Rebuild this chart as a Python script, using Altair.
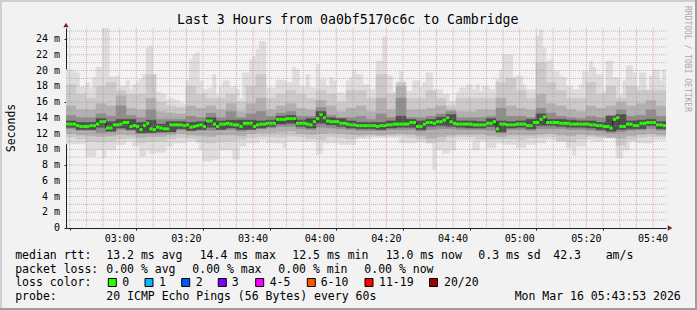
import altair as alt
import pandas as pd

# ---------------- data ----------------
START = "2026-03-16T02:43:53Z"
SPAN_MIN = 180          # 3 hours, one ping round per minute
INNER_MIN = 3           # inner smoke layers read at 3-minute resolution
YMAX = 25.4             # top of the value axis, ms

# median rtt per minute (ms)
median_ms = [
    13.2, 13.2, 13.2, 13.0, 12.9, 12.9, 12.9, 13.0, 13.0, 13.2, 13.5, 13.5, 12.7, 12.7, 13.1,
    13.1, 13.2, 13.4, 13.4, 12.9, 13.0, 12.9, 12.5, 13.0, 13.3, 12.6, 12.5, 12.8, 12.7, 12.6,
    12.6, 13.1, 13.1, 13.1, 13.1, 13.0, 13.1, 12.8, 12.9, 13.0, 13.1, 12.9, 13.6, 13.6, 13.2,
    12.9, 13.2, 13.2, 13.3, 13.2, 13.1, 13.1, 12.9, 13.3, 13.3, 13.3, 12.9, 13.1, 13.2, 13.2,
    13.3, 13.3, 13.3, 13.8, 13.8, 13.8, 13.9, 13.9, 13.9, 13.3, 13.3, 13.3, 13.2, 13.1, 13.5,
    13.9, 14.4, 14.0, 13.6, 13.5, 13.5, 13.5, 13.3, 13.3, 13.2, 13.1, 13.1, 13.0, 13.0, 13.0,
    13.0, 13.0, 13.0, 12.9, 13.0, 13.0, 13.1, 13.1, 13.2, 13.2, 13.2, 13.2, 13.2, 13.4, 13.4,
    12.9, 12.9, 13.2, 13.4, 13.4, 13.3, 13.5, 13.5, 13.7, 14.0, 13.5, 13.3, 13.2, 13.2, 13.2,
    13.2, 13.2, 13.1, 13.1, 13.1, 13.1, 13.3, 13.3, 13.5, 12.6, 13.2, 13.2, 13.1, 13.1, 13.1,
    13.2, 13.2, 13.2, 13.0, 13.0, 13.4, 13.4, 13.8, 14.1, 13.4, 13.4, 13.4, 13.4, 13.3, 13.3,
    13.3, 13.2, 13.2, 13.2, 13.2, 13.2, 13.2, 13.1, 13.1, 13.0, 13.0, 12.9, 12.9, 12.7, 13.8,
    14.0, 12.9, 12.9, 13.2, 13.2, 13.0, 13.0, 13.3, 13.3, 13.4, 13.4, 13.4, 13.1, 13.1, 13.0,
]

# slowest ping of each round (top of the outer smoke), ms
smoke_hi_ms = [
    20.1, 20.1, 19.9, 19.7, 17.9, 18.0, 18.5, 17.8, 19.1, 20.4, 20.4, 25.6, 25.6, 19.2, 19.2,
    19.3, 18.0, 18.0, 18.7, 17.6, 18.2, 18.5, 18.9, 19.5, 22.9, 23.1, 19.1, 17.2, 17.2, 17.0,
    16.3, 16.5, 16.3, 16.2, 15.9, 15.7, 18.7, 21.4, 22.0, 22.3, 18.7, 17.6, 17.6, 17.8, 19.5,
    17.0, 18.0, 18.7, 18.7, 17.8, 18.0, 17.6, 16.5, 19.7, 19.7, 21.4, 21.8, 22.7, 23.7, 23.7,
    17.8, 17.8, 17.8, 18.8, 18.8, 18.7, 18.5, 18.5, 20.4, 20.1, 18.0, 18.0, 19.5, 17.8, 17.8,
    20.8, 18.9, 18.9, 18.0, 19.1, 18.7, 17.2, 17.2, 17.0, 18.7, 19.1, 20.1, 19.5, 19.5, 18.2,
    18.2, 17.6, 17.6, 21.2, 21.2, 24.2, 19.5, 19.3, 17.2, 17.6, 19.9, 17.8, 17.4, 17.4, 18.7,
    18.7, 18.0, 18.5, 19.7, 19.7, 17.2, 17.6, 17.6, 17.0, 17.0, 16.1, 16.1, 17.2, 17.8, 17.8,
    18.2, 18.2, 17.6, 18.2, 17.4, 18.0, 18.0, 17.6, 17.6, 18.9, 20.1, 22.0, 22.0, 22.0, 19.1,
    19.3, 19.3, 18.2, 17.6, 17.6, 17.6, 24.4, 25.2, 22.9, 21.2, 21.4, 19.9, 19.9, 19.3, 19.1,
    18.0, 18.0, 17.6, 17.6, 18.2, 19.9, 19.9, 21.2, 20.4, 19.5, 19.5, 17.4, 21.2, 21.2, 19.1,
    19.1, 17.0, 18.7, 20.6, 20.6, 19.7, 18.0, 19.7, 19.7, 17.6, 19.3, 20.1, 20.1, 18.7, 20.1,
]

# fastest ping of each round (bottom of the outer smoke), ms
smoke_lo_ms = [
    10.7, 10.7, 10.7, 10.7, 10.7, 10.7, 9.1, 9.1, 9.1, 9.9,
    9.9, 8.9, 9.9, 9.9, 9.9, 10.6, 10.6, 10.6, 11.0, 11.0,
    10.4, 10.4, 9.1, 9.1, 9.9, 9.5, 9.5, 9.6, 9.6, 9.6,
    10.4, 10.4, 10.8, 10.8, 10.8, 10.8, 11.0, 11.0, 11.0, 11.0,
    9.9, 8.5, 8.5, 8.5, 8.7, 8.7, 9.9, 9.9, 9.9, 9.9,
    8.7, 8.7, 10.4, 10.4, 10.8, 10.8, 10.8, 10.8, 11.2, 11.2,
    10.8, 10.8, 10.8, 10.8, 10.8, 10.2, 11.0, 11.0, 11.0, 11.0,
    11.0, 11.0, 11.0, 11.0, 11.0, 9.3, 9.5, 10.8, 10.8, 10.8,
    10.8, 10.8, 10.6, 10.6, 10.6, 10.6, 10.6, 11.4, 11.4, 11.4,
    11.4, 11.4, 11.5, 11.5, 11.5, 11.5, 11.5, 11.5, 11.5, 11.5,
    10.8, 10.8, 10.8, 10.8, 10.8, 10.9, 10.9, 10.9, 10.9, 10.9,
    7.4, 9.9, 9.9, 9.5, 9.5, 9.9, 9.9, 11.2, 11.2, 11.2,
    11.2, 11.2, 9.9, 9.9, 11.0, 11.0, 10.2, 10.2, 10.2, 10.8,
    10.8, 10.6, 10.6, 10.6, 10.6, 10.2, 10.2, 10.2, 10.6, 10.6,
    10.6, 10.8, 10.8, 10.8, 11.2, 11.2, 11.2, 11.2, 11.2, 11.2,
    10.2, 10.2, 9.2, 10.4, 10.4, 10.4, 11.2, 11.2, 11.0, 11.0,
    11.0, 11.4, 11.4, 11.4, 11.4, 8.9, 8.9, 9.9, 9.9, 11.0,
    11.0, 10.8, 10.8, 10.8, 10.8, 10.8, 11.2, 11.2, 11.2, 11.2,
]

# inner smoke layers, 3-minute blocks (ms), from outer to inner
band2_hi_ms = [
    18.2, 17.0, 16.5, 18.0, 18.5, 17.5, 17.0, 17.0, 19.5, 16.0, 15.5, 15.3, 18.0, 17.0, 16.5,
    16.5, 17.0, 16.0, 18.0, 19.5, 16.5, 17.0, 17.5, 17.0, 16.5, 17.5, 17.0, 16.0, 17.5, 17.5,
    16.5, 19.5, 17.0, 18.5, 16.5, 16.5, 17.5, 16.5, 15.5, 16.5, 16.5, 16.5, 16.5, 18.5, 19.0,
    17.5, 16.5, 21.0, 18.5, 17.5, 16.5, 16.5, 18.5, 17.0, 18.0, 16.5, 18.0, 17.5, 17.5, 17.5,
]
band2_lo_ms = [
    11.5, 11.3, 11.0, 10.9, 11.0, 11.3, 11.4, 10.8, 11.0, 11.0, 11.3, 11.5, 11.4, 10.9, 10.8,
    11.0, 11.0, 11.2, 11.5, 11.6, 11.6, 11.5, 11.7, 11.6, 11.4, 11.2, 11.6, 11.5, 11.3, 11.5,
    11.7, 11.7, 11.7, 11.7, 11.5, 11.3, 10.8, 11.0, 11.5, 11.6, 11.6, 11.3, 11.2, 11.3, 11.3,
    11.2, 11.4, 11.5, 11.6, 11.0, 10.9, 11.3, 11.6, 11.5, 11.6, 10.5, 11.2, 11.5, 11.6, 11.6,
]
band3_hi_ms = [
    15.5, 15.0, 15.0, 15.8, 15.5, 16.8, 15.2, 15.0, 16.5, 14.8, 14.6, 14.5, 15.5, 15.2, 15.5,
    15.0, 15.8, 14.8, 15.8, 16.5, 15.0, 15.5, 15.8, 15.2, 15.0, 16.2, 15.5, 14.8, 15.2, 15.5,
    14.8, 16.5, 15.0, 18.0, 15.0, 15.0, 15.2, 15.5, 15.0, 14.8, 14.8, 15.0, 15.0, 16.5, 15.5,
    15.2, 15.0, 17.0, 15.8, 15.5, 15.0, 14.8, 15.5, 15.2, 15.5, 16.0, 15.5, 15.8, 16.2, 15.5,
]
band3_lo_ms = [
    12.0, 11.8, 11.7, 11.6, 11.7, 11.9, 11.8, 11.5, 11.6, 11.6, 11.8, 12.0, 11.8, 11.7, 11.6,
    11.8, 11.8, 11.7, 12.0, 12.1, 12.1, 12.2, 12.3, 12.0, 11.9, 12.0, 12.1, 12.0, 11.9, 11.8,
    11.9, 11.8, 11.9, 12.0, 11.9, 11.7, 11.4, 11.6, 11.8, 11.9, 11.9, 11.9, 11.7, 11.6, 11.8,
    11.8, 11.8, 11.9, 12.0, 11.8, 11.7, 11.9, 11.8, 11.7, 11.5, 11.4, 11.7, 11.9, 12.0, 11.8,
]
band4_hi_ms = [
    14.3, 14.0, 14.0, 14.5, 14.2, 15.5, 14.3, 14.0, 15.0, 13.8, 13.8, 13.8, 14.2, 14.0, 14.6,
    14.0, 14.8, 14.0, 14.5, 14.8, 14.2, 14.6, 14.8, 14.2, 14.2, 15.3, 14.3, 14.0, 14.0, 14.2,
    13.8, 14.5, 14.0, 16.5, 14.0, 14.0, 14.2, 14.5, 14.8, 14.0, 14.0, 14.0, 14.2, 15.2, 14.2,
    14.2, 14.0, 15.2, 14.6, 14.2, 14.0, 13.9, 14.2, 14.0, 14.3, 15.0, 14.2, 14.3, 15.0, 14.2,
]
band4_lo_ms = [
    12.6, 12.4, 12.4, 12.1, 12.2, 12.5, 12.4, 12.0, 12.1, 12.1, 12.2, 12.5, 12.3, 12.4, 12.4,
    12.5, 12.5, 12.3, 12.6, 12.6, 12.7, 12.9, 12.9, 12.6, 12.5, 12.8, 12.7, 12.6, 12.5, 12.4,
    12.4, 12.4, 12.5, 12.5, 12.5, 12.3, 12.5, 12.6, 12.6, 12.5, 12.5, 12.5, 12.4, 12.1, 12.5,
    12.5, 12.4, 12.6, 12.6, 12.6, 12.5, 12.5, 12.4, 12.3, 12.1, 12.2, 12.4, 12.5, 12.6, 12.4,
]
band5_hi_ms = [
    13.6, 13.4, 13.4, 13.9, 13.5, 13.8, 13.8, 13.4, 13.7, 13.2, 13.5, 13.5, 13.4, 13.5, 14.0,
    13.6, 13.7, 13.7, 13.7, 13.6, 13.7, 14.2, 14.3, 13.7, 13.9, 14.8, 14.0, 13.9, 13.6, 13.4,
    13.4, 13.4, 13.6, 14.2, 13.8, 13.6, 13.8, 14.1, 14.4, 13.6, 13.6, 13.5, 13.9, 13.6, 13.5,
    13.6, 13.8, 14.5, 13.8, 13.8, 13.7, 13.6, 13.6, 13.4, 14.2, 14.4, 13.6, 13.7, 13.8, 13.5,
]
band5_lo_ms = [
    12.8, 12.5, 12.5, 12.8, 12.3, 12.7, 12.5, 12.1, 12.1, 12.2, 12.2, 12.6, 12.4, 12.5, 12.8,
    12.5, 12.7, 12.5, 12.5, 12.7, 12.9, 13.2, 13.3, 12.9, 12.7, 13.3, 13.1, 12.9, 12.7, 12.6,
    12.6, 12.5, 12.7, 12.8, 12.8, 12.5, 12.9, 13.0, 12.9, 12.8, 12.7, 12.7, 12.9, 12.2, 12.7,
    12.8, 12.6, 13.0, 13.0, 12.9, 12.8, 12.8, 12.7, 12.5, 12.3, 12.5, 12.6, 12.6, 13.0, 12.6,
]

y_ticks_ms = list(range(0, 26))
y_label_ms = list(range(0, 25, 2))
y_labels = ["0"] + [f"{v} m" for v in y_label_ms[1:]]
x_ticks = pd.date_range("2026-03-16 02:45", "2026-03-16 05:40", freq="5min", tz="UTC")
x_label_ticks = pd.date_range("2026-03-16 03:00", "2026-03-16 05:40", freq="20min", tz="UTC")
x_labels = [t.strftime("%H:%M") for t in x_label_ticks]

title_text = "Last 3 Hours from 0a0bf5170c6c to Cambridge"
y_title = "Seconds"
watermark = "RRDTOOL / TOBI OETIKER"
legend_rows = ["median rtt:", "packet loss:", "loss color:", "probe:"]
median_stats = ["13.2 ms avg", "14.4 ms max", "12.5 ms min", "13.0 ms now", "0.3 ms sd", "42.3", "am/s"]
loss_stats = ["0.00 % avg", "0.00 % max", "0.00 % min", "0.00 % now"]
loss_labels = ["0", "1", "2", "3", "4-5", "6-10", "11-19", "20/20"]
loss_colors = ["#26ff00", "#00b8ff", "#0059ff", "#7e00ff", "#ff00ff", "#ff5500", "#ff0000", "#a00000"]
probe_text = "20 ICMP Echo Pings (56 Bytes) every 60s"
stamp_text = "Mon Mar 16 05:43:53 2026"

# ---------------- layout / style ----------------
OX, OY = 66, 28            # plot origin inside the 697x310 image
W, H = 600, 200
MONO = "DejaVu Sans Mono"
BACK = "#f2f2f2"
GRID = "rgba(143,143,143,0.55)"
MGRID = "rgba(222,79,79,0.45)"
AXISC = "#1f1f1f"
ARROW = "#801f1f"
SMOKE = ["#dddddd", "#cacaca", "#b0b0b0", "#8e8e8e", "#4e4e4e"]
MED_HALF = 0.19           # half thickness of the median band, ms

MIN_MS = 60000
t0 = int(pd.Timestamp(START).value // 10**6)
t1 = t0 + SPAN_MIN * MIN_MS
ms = lambda t: int(t.value // 10**6)

outer = pd.DataFrame({
    "ts": [t0 + i * MIN_MS for i in range(SPAN_MIN)],
    "te": [t0 + (i + 1) * MIN_MS for i in range(SPAN_MIN)],
    "lo": smoke_lo_ms, "hi": smoke_hi_ms,
})

def inner(lo, hi):
    n = len(lo)
    return pd.DataFrame({
        "ts": [t0 + k * INNER_MIN * MIN_MS for k in range(n)],
        "te": [t0 + (k + 1) * INNER_MIN * MIN_MS for k in range(n)],
        "lo": lo, "hi": hi,
    })

med = pd.DataFrame({
    "ts": [t0 + i * MIN_MS for i in range(SPAN_MIN)],
    "te": [t0 + (i + 1) * MIN_MS for i in range(SPAN_MIN)],
    "med": median_ms,
})
med_line = pd.concat([med[["ts", "med"]], pd.DataFrame({"ts": [t1], "med": [median_ms[-1]]})])

xs = alt.Scale(domain=[t0, t1], nice=False, zero=False)
ys = alt.Scale(domain=[0, YMAX], nice=False, zero=True)

x_axis = alt.Axis(values=[ms(t) for t in x_ticks], title=None, grid=False, labels=False,
                  domainColor=AXISC, tickColor=AXISC, tickSize=2)
y_axis = alt.Axis(values=y_ticks_ms, title=None, grid=False, labels=False,
                  domainColor=AXISC, tickColor=AXISC, tickSize=2)

def band(df, color, with_axes=False):
    xe = alt.X("ts:Q", scale=xs, axis=x_axis) if with_axes else alt.X("ts:Q", scale=xs)
    ye = alt.Y("lo:Q", scale=ys, axis=y_axis) if with_axes else alt.Y("lo:Q", scale=ys)
    return alt.Chart(df).mark_rect(color=color, stroke=color, strokeWidth=0.5, clip=True).encode(
        x=xe, x2="te:Q", y=ye, y2="hi:Q")

layers = [
    band(outer, SMOKE[0], with_axes=True),
    band(inner(band2_lo_ms, band2_hi_ms), SMOKE[1]),
    band(inner(band3_lo_ms, band3_hi_ms), SMOKE[2]),
    band(inner(band4_lo_ms, band4_hi_ms), SMOKE[3]),
    band(inner(band5_lo_ms, band5_hi_ms), SMOKE[4]),
    alt.Chart(med_line).mark_line(interpolate="step-after", color="#202020", strokeWidth=1, clip=True).encode(
        x=alt.X("ts:Q", scale=xs), y=alt.Y("med:Q", scale=ys)),
    alt.Chart(med).transform_calculate(
        gl=f"datum.med - {MED_HALF}", gh=f"datum.med + {MED_HALF}"
    ).mark_rect(color=loss_colors[0], clip=True).encode(
        x=alt.X("ts:Q", scale=xs), x2="te:Q", y=alt.Y("gl:Q", scale=ys), y2="gh:Q"),
]

# grid drawn over the data, as rrdtool does
xgrid = pd.DataFrame({"ts": [ms(t) for t in x_ticks],
                      "c": [MGRID if t.minute % 20 == 0 else GRID for t in x_ticks]})
ygrid = pd.DataFrame({"v": y_ticks_ms[1:],
                      "c": [MGRID if v % 2 == 0 else GRID for v in y_ticks_ms[1:]]})
layers.append(alt.Chart(xgrid).mark_rule(strokeDash=[1, 1], strokeWidth=1).encode(
    x=alt.X("ts:Q", scale=xs), color=alt.Color("c:N", scale=None)))
layers.append(alt.Chart(ygrid).mark_rule(strokeDash=[1, 1], strokeWidth=1).encode(
    y=alt.Y("v:Q", scale=ys), color=alt.Color("c:N", scale=None)))

# tick labels
ylab = pd.DataFrame({"v": y_label_ms, "lab": y_labels})
layers.append(alt.Chart(ylab).mark_text(align="right", baseline="middle", x=-6, font=MONO,
                                         fontSize=10, color="black").encode(
    y=alt.Y("v:Q", scale=ys), text="lab:N"))
xlab = pd.DataFrame({"ts": [ms(t) for t in x_label_ticks], "lab": x_labels})
layers.append(alt.Chart(xlab).mark_text(align="center", baseline="top", y=H + 6.4, font=MONO,
                                         fontSize=10, color="black").encode(
    x=alt.X("ts:Q", scale=xs), text="lab:N"))

# axis arrows at the ends of the two axes
ends = pd.DataFrame({"ts": [t0, t1], "v": [YMAX, 0]})
layers.append(alt.Chart(ends.iloc[[0]]).mark_point(
    shape="triangle-up", filled=True, color=ARROW, size=28, opacity=1, yOffset=-3).encode(
    x=alt.X("ts:Q", scale=xs), y=alt.Y("v:Q", scale=ys)))
layers.append(alt.Chart(ends.iloc[[1]]).mark_point(
    shape="triangle-right", filled=True, color=ARROW, size=28, opacity=1, xOffset=4).encode(
    x=alt.X("ts:Q", scale=xs), y=alt.Y("v:Q", scale=ys)))

ONE = alt.Data(values=[{"k": 0}])

def text(s, ax, ay, size=11.5, align="left", baseline="alphabetic", angle=0, color="black", font=MONO):
    return alt.Chart(ONE).mark_text(
        text=s, x=ax - OX, y=ay - OY, align=align, baseline=baseline, angle=angle,
        font=font, fontSize=size, color=color).encode(opacity=alt.value(1))

def box(x0, y0, x1, y1, fill, stroke=None, sw=0):
    kw = dict(color=fill)
    if stroke:
        kw.update(stroke=stroke, strokeWidth=sw)
    return alt.Chart(ONE).mark_rect(**kw).encode(
        x=alt.value(x0 - OX), x2=alt.value(x1 - OX), y=alt.value(y0 - OY), y2=alt.value(y1 - OY))

def rule(x0, y0, x1, y1, color, w):
    return alt.Chart(ONE).mark_rule(color=color, strokeWidth=w).encode(
        x=alt.value(x0 - OX), x2=alt.value(x1 - OX), y=alt.value(y0 - OY), y2=alt.value(y1 - OY))

# 3-D frame round the image
layers += [
    rule(0, 1, 697, 1, "#cfcfcf", 2),
    rule(1, 0, 1, 310, "#cfcfcf", 2),
    rule(0, 309, 697, 309, "#9e9e9e", 2),
    rule(696, 0, 696, 310, "#9e9e9e", 2),
]

# titles
layers.append(text(title_text, 347.8, 23.5, size=13.2, align="center"))
layers.append(text(y_title, 15, 128, size=11.5, align="center", baseline="alphabetic", angle=270))
layers.append(text(watermark, 686.5, 59, size=8, align="center", baseline="middle", angle=90, color="#a8a8a8"))

# legend
L1, L2, L3, L4 = 259.0, 272.7, 286.4, 300.1
for s, yy in zip(legend_rows, [L1, L2, L3, L4]):
    layers.append(text(s, 15.2, yy))
for s, xx in zip(median_stats, [106.3, 199.7, 292.3, 385.7, 478.3, 553.3, 605.7]):
    layers.append(text(s, xx, L1))
for s, xx in zip(loss_stats, [106.3, 192.3, 278.3, 364.3]):
    layers.append(text(s, xx, L2))
for lab, col, bx, tx in zip(loss_labels, loss_colors,
                            [108.3, 145.0, 181.7, 218.3, 255.7, 307.3, 365.0, 429.5],
                            [122.3, 159.0, 195.7, 231.7, 269.7, 320.7, 379.0, 444.0]):
    layers.append(box(bx, 278.5, bx + 8, 286.5, col, stroke="black", sw=1))
    layers.append(text(lab, tx, L3))
layers.append(text(probe_text, 106.3, L4))
layers.append(text(stamp_text, 680.8, L4, align="right"))

chart = alt.layer(*layers).properties(
    width=W, height=H,
    padding={"left": OX, "top": OY, "right": 697 - OX - W, "bottom": 310 - OY - H},
    autosize=alt.AutoSizeParams(type="none"),
    background=BACK,
).configure_view(fill="white", stroke=None)

chart.save("out.html", embed_options={"renderer": "svg", "actions": False})
